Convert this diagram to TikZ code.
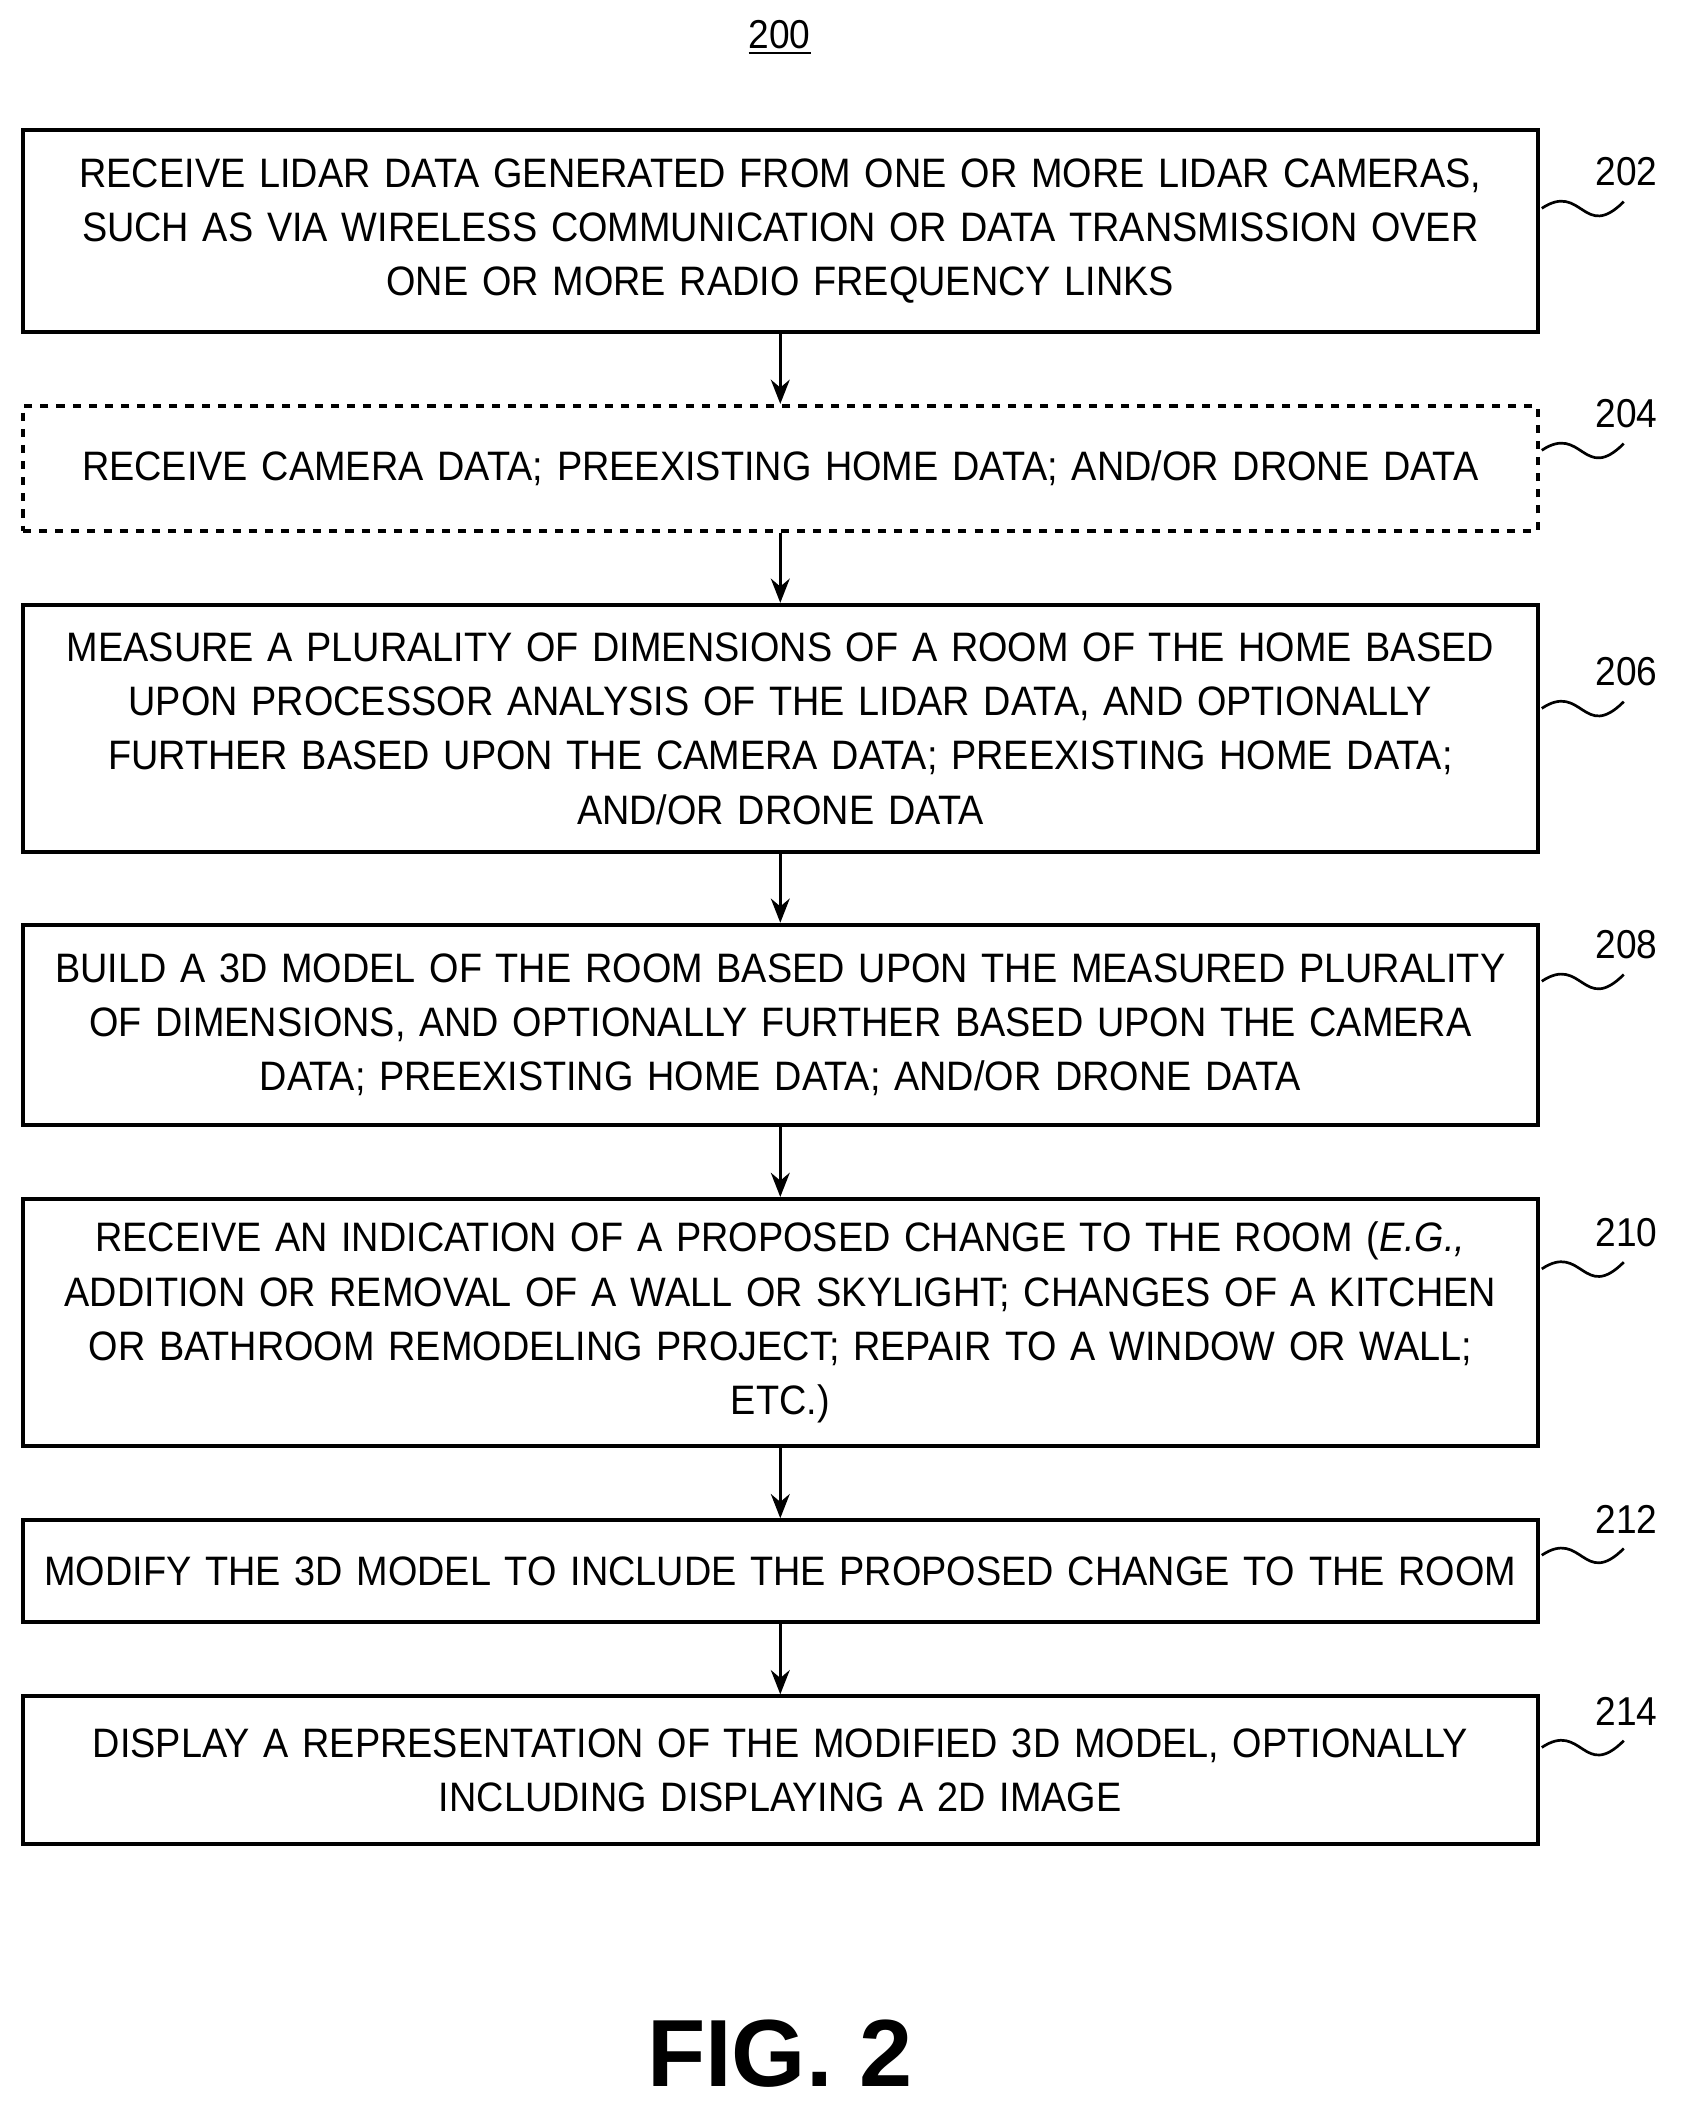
\documentclass[tikz,border=0pt]{standalone}
\usepackage{fontspec}
\setmainfont{Liberation Sans}[FakeStretch=0.92]
\usetikzlibrary{arrows.meta}
\begin{document}
\begin{tikzpicture}[x=0.5pt,y=-0.5pt,
 box/.style={draw,line width=1.5pt,minimum width=563.5pt,text width=560pt,align=center,inner sep=0pt,font=\fontsize{15.3}{20.2}\selectfont},
 lab/.style={font=\fontsize{15}{18}\selectfont},
 arr/.style={line width=1.2pt,-{Stealth[length=9pt,width=7pt]}},
 sq/.style={line width=1pt}]
\useasboundingbox (0,0) rectangle (1250,1569);
\node[font=\fontsize{15}{18}\selectfont] (t) at (580,28) {\underline{200}};
\node[box,minimum height=75pt] (b202) at (580.5,172) {RECEIVE LIDAR DATA GENERATED FROM ONE OR MORE LIDAR CAMERAS,\\ SUCH AS VIA WIRELESS COMMUNICATION OR DATA TRANSMISSION OVER\\ ONE OR MORE RADIO FREQUENCY LINKS};
\node[box,dashed,minimum height=46.5pt] (b204) at (580.5,348.5) {RECEIVE CAMERA DATA; PREEXISTING HOME DATA; AND/OR DRONE DATA};
\node[box,minimum height=92pt] (b206) at (580.5,542) {MEASURE A PLURALITY OF DIMENSIONS OF A ROOM OF THE HOME BASED\\ UPON PROCESSOR ANALYSIS OF THE LIDAR DATA, AND OPTIONALLY\\ FURTHER BASED UPON THE CAMERA DATA; PREEXISTING HOME DATA;\\ AND/OR DRONE DATA};
\node[box,minimum height=74.5pt] (b208) at (580.5,762.5) {BUILD A 3D MODEL OF THE ROOM BASED UPON THE MEASURED PLURALITY\\ OF DIMENSIONS, AND OPTIONALLY FURTHER BASED UPON THE CAMERA\\ DATA; PREEXISTING HOME DATA; AND/OR DRONE DATA};
\node[box,minimum height=92pt] (b210) at (580.5,984) {RECEIVE AN INDICATION OF A PROPOSED CHANGE TO THE ROOM (\textit{E.G.,}\\ ADDITION OR REMOVAL OF A WALL OR SKYLIGHT; CHANGES OF A KITCHEN\\ OR BATHROOM REMODELING PROJECT; REPAIR TO A WINDOW OR WALL;\\ ETC.)};
\node[box,minimum height=38pt] (b212) at (580.5,1169) {MODIFY THE 3D MODEL TO INCLUDE THE PROPOSED CHANGE TO THE ROOM};
\node[box,minimum height=55pt] (b214) at (580.5,1317) {DISPLAY A REPRESENTATION OF THE MODIFIED 3D MODEL, OPTIONALLY\\ INCLUDING DISPLAYING A 2D IMAGE};
\foreach \a/\b in {b202/b204,b204/b206,b206/b208,b208/b210,b210/b212,b212/b214}
  \draw[arr] (\a.south) -- (\b.north);
\foreach \n/\y in {202/128,204/308,206/500,208/703,210/917,212/1130,214/1273}{
  \node[lab] (l\n) at (1210,\y) {\n};
  \coordinate (s\n) at (1147,\y+27);
  \coordinate (e\n) at (1208,\y+22);
  \draw[sq] (s\n) .. controls ++(30,-20) and ++(-30,30) .. (e\n);
}
\node[font=\fontspec{Liberation Sans}\bfseries\fontsize{35.5}{38}\selectfont] (fig) at (580,1528) {FIG. 2};
\end{tikzpicture}
\end{document}
